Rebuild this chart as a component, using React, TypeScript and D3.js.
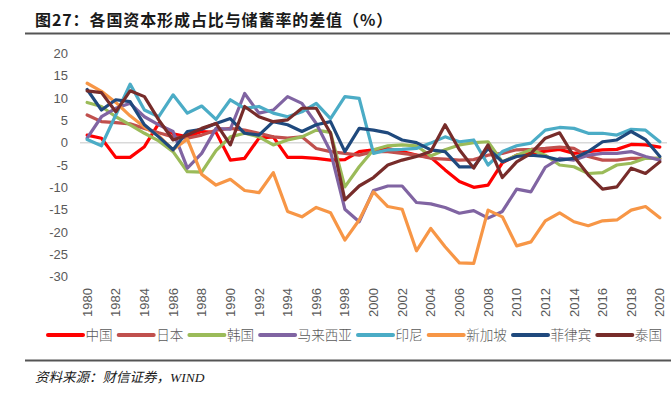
import * as d3 from 'd3'

const years = d3.range(1980, 2021)
const yTicks = [20, 15, 10, 5, 0, -5, -10, -15, -20, -25, -30]
const xTickYears = years.filter(y => y % 2 === 0)

const china = [1.7, 1.0, -3.3, -3.3, -0.9, 4.3, 2.0, 1.3, 2.5, 2.3,
  -3.9, -3.5, 1.0, 1.3, -3.3, -3.3, -3.5, -3.9, -3.8, -2.0,
  -1.6, -1.3, -2.0, -2.8, -3.3, -6.1, -8.7, -10.0, -9.5, -4.5,
  -2.8, -2.4, -1.9, -1.5, -2.4, -2.0, -1.6, -1.5, -0.4, -0.5, -1.0]
const japan = [6.2, 4.7, 4.5, 4.2, 3.2, 2.2, 1.3, 1.0, 1.7, 2.8,
  3.2, 2.8, 2.1, 1.3, 1.0, 1.3, -1.3, -2.0, -2.4, -2.8,
  -2.0, -2.0, -2.4, -2.8, -3.5, -3.7, -3.9, -3.8, -2.8, -2.4,
  -1.6, -1.5, -1.3, -1.0, -1.3, -3.1, -3.9, -3.9, -3.5, -3.5, -3.5]
const korea = [9.0, 8.1, 5.8, 4.0, 2.1, 0.4, -2.0, -6.5, -6.6, -1.8,
  1.3, 2.1, 1.3, -0.5, 0.6, 1.3, 2.8, 2.3, -9.9, -5.4,
  -1.6, -0.7, -0.5, -0.7, -3.0, -1.6, -0.5, 0.0, 0.2, -4.3,
  -2.8, -1.6, -2.8, -5.0, -5.4, -6.9, -6.7, -5.0, -4.6, -3.5, -3.5]
const malaysia = [1.0, 5.8, 7.7, 8.8, 5.8, 4.0, 2.5, -5.7, -2.4, 3.2,
  3.0, 11.0, 6.6, 7.3, 10.3, 8.8, 4.3, -2.0, -14.9, -17.7,
  -10.7, -9.7, -9.7, -13.4, -13.7, -14.5, -15.8, -15.2, -16.9, -15.4,
  -10.4, -11.0, -5.5, -3.5, -3.9, -2.8, -2.4, -2.4, -2.0, -3.1, -3.9]
const indonesia = [0.7, -0.7, 6.2, 13.1, 7.3, 5.8, 10.7, 6.6, 8.2, 5.2,
  9.6, 7.7, 8.1, 6.6, 5.8, 6.9, 8.8, 5.4, 10.3, 9.9,
  -2.4, -1.6, -1.5, -1.3, -0.1, 1.3, 0.2, 0.6, -5.0, -2.0,
  -0.7, -0.1, 2.8, 3.4, 3.2, 2.1, 2.1, 1.7, 3.0, 2.8, 0.2]
const singapore = [13.3, 11.5, 9.0, 6.0, 3.5, 1.5, -1.6, 0.8, -7.1, -9.5,
  -8.2, -10.7, -11.2, -6.7, -15.4, -16.6, -14.5, -15.7, -21.8, -17.3,
  -11.0, -14.3, -14.9, -24.2, -19.2, -23.3, -26.9, -27.0, -15.1, -16.6,
  -23.1, -22.2, -17.5, -15.7, -17.7, -18.6, -17.5, -17.3, -15.1, -14.3, -16.8]
const philippines = [11.9, 7.3, 9.6, 9.2, 4.0, 1.3, -1.6, 2.5, 3.0, 4.3,
  5.4, 2.1, 1.7, 4.7, 4.0, 2.5, 4.0, 4.7, -2.0, 3.2,
  2.8, 2.2, 0.6, 0.0, -1.6, -2.0, -5.4, -5.4, -1.3, -4.3,
  -3.1, -2.8, -3.1, -3.9, -3.5, -2.0, 0.2, 0.6, 2.5, 0.7, -3.1]
const thailand = [11.6, 11.2, 6.9, 11.6, 10.3, 5.1, 0.6, 1.7, 3.2, 4.3,
  -0.5, 8.1, 5.8, 4.7, 5.1, 7.7, 7.7, 2.1, -12.8, -9.7,
  -7.8, -5.0, -3.9, -3.1, -2.0, 4.0, -1.6, -5.7, -0.5, -7.8,
  -4.3, -2.4, 1.0, 2.2, -3.1, -7.2, -10.4, -9.9, -5.7, -6.9, -4.3]

const seriesNames = ['中国', '日本', '韩国', '马来西亚', '印尼', '新加坡', '菲律宾', '泰国']
const seriesValues = [china, japan, korea, malaysia, indonesia, singapore, philippines, thailand]
const colors = ['#FF0000', '#C0504D', '#9BBB59', '#8064A2', '#4BACC6', '#F79646', '#1F497D', '#772C2A']

const W = 671
const H = 399
const plot = { left: 80, right: 667, top: 53.3, bottom: 276.7 }

export default function App() {
  const x = d3.scalePoint<number>().domain(years).range([plot.left, plot.right]).padding(0.5)
  const y = d3.scaleLinear().domain([-30, 20]).range([plot.bottom, plot.top])

  const line = d3.line<number>()
    .x((_, i) => x(years[i]) ?? 0)
    .y(d => y(d))

  // legend layout: line 35px, small gap, text at 14px per CJK char
  const lineLen = 35
  const charW = 13.6
  let cursor = 48
  const legendItems = seriesNames.map((name, i) => {
    const item = { name, color: colors[i], x: cursor }
    cursor += lineLen + 2.5 + name.length * charW + 6
    return item
  })

  const axisFont = '"Liberation Sans", Arial, sans-serif'
  const cjkFont = '"Noto Sans CJK SC", sans-serif'

  return (
    <svg width={W} height={H} style={{ position: 'absolute', left: 0, top: 0, background: '#fff' }}>
      {/* title */}
      <text x={35} y={26} fontFamily={cjkFont} fontWeight={700} fontSize={16} letterSpacing={0.9} fill="#1a1a1a">
        图27：各国资本形成占比与储蓄率的差值（%）
      </text>
      <line x1={25} x2={670} y1={33.5} y2={33.5} stroke="#555" strokeWidth={2} />

      {/* zero line */}
      <line x1={plot.left} x2={plot.right} y1={y(0)} y2={y(0)} stroke="#D9D9D9" strokeWidth={1.5} />

      {/* y ticks */}
      {yTicks.map(t => (
        <text key={t} x={68} y={y(t)} dy="0.35em" textAnchor="end" fontFamily={axisFont} fontSize={13} fill="#595959">
          {t}
        </text>
      ))}

      {/* x ticks */}
      {xTickYears.map(yr => (
        <text key={yr} transform={`translate(${x(yr)},288) rotate(-90)`} dy="0.35em" textAnchor="end"
          fontFamily={axisFont} fontSize={13} fill="#595959">
          {yr}
        </text>
      ))}

      {/* series */}
      {seriesValues.map((vals, i) => (
        <path key={seriesNames[i]} d={line(vals) ?? ''} fill="none" stroke={colors[i]} strokeWidth={3.2}
          strokeLinejoin="round" strokeLinecap="round" />
      ))}

      {/* legend */}
      {legendItems.map(it => (
        <g key={it.name}>
          <line x1={it.x} x2={it.x + lineLen} y1={335} y2={335} stroke={it.color} strokeWidth={4} strokeLinecap="round" />
          <text x={it.x + lineLen + 2.5} y={335} dy="0.35em" fontFamily={cjkFont} fontWeight={300} fontSize={13.6} fill="#595959">
            {it.name}
          </text>
        </g>
      ))}

      <line x1={25} x2={671} y1={360.5} y2={360.5} stroke="#555" strokeWidth={2} />
      <text x={35} y={382} fontFamily={'"Liberation Serif", "Noto Sans CJK SC", serif'} fontStyle="italic" fontSize={13.5} fill="#1a1a1a">
        资料来源：财信证券，WIND
      </text>
    </svg>
  )
}
